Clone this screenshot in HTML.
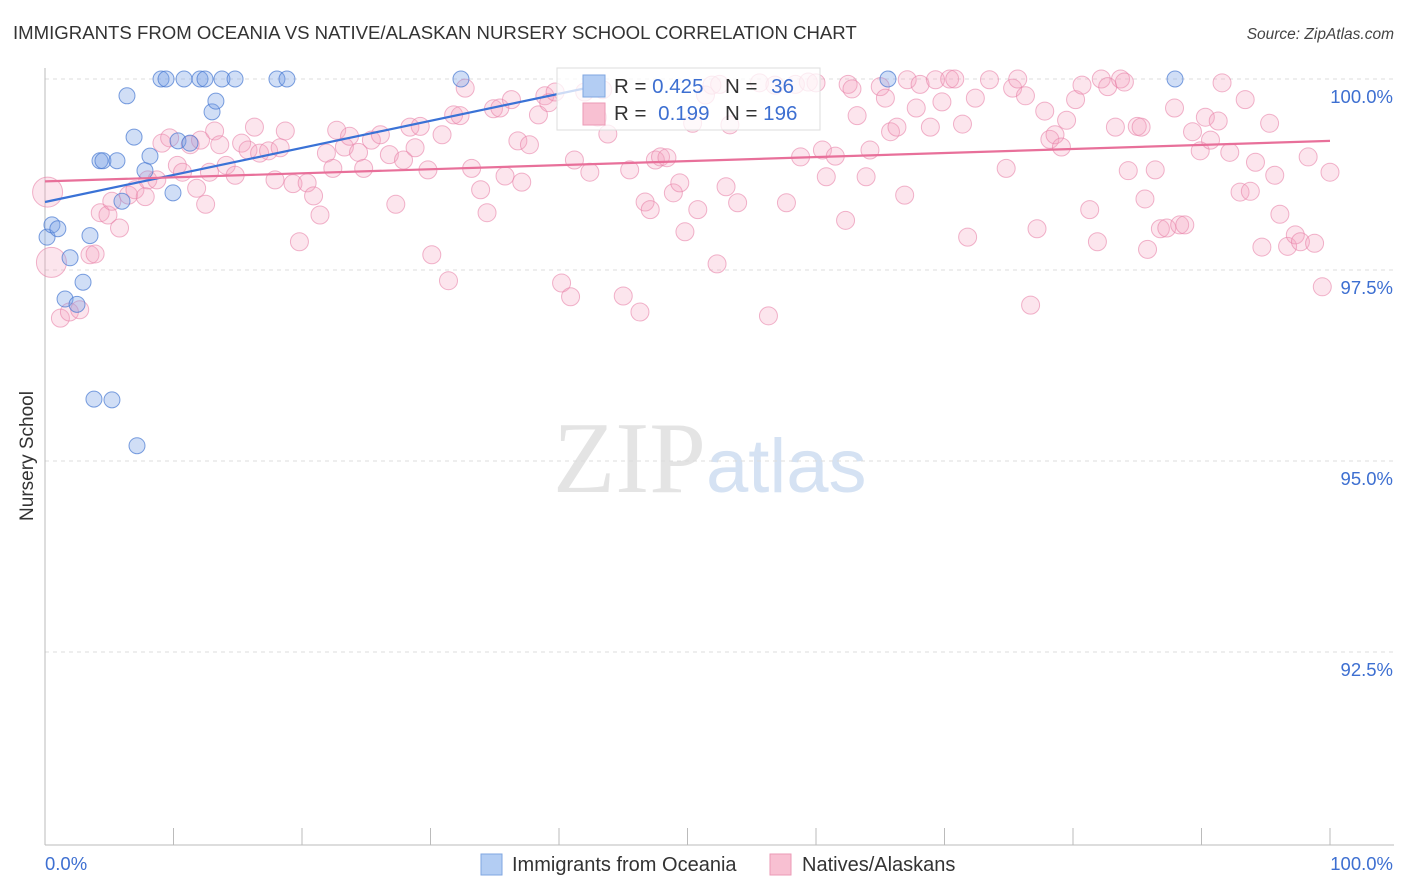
<!DOCTYPE html>
<html><head><meta charset="utf-8"><style>
body{margin:0;background:#fff;font-family:"Liberation Sans",sans-serif;}
svg{display:block}
</style></head><body>
<svg id="chart" width="1406" height="892" viewBox="0 0 1406 892" xmlns="http://www.w3.org/2000/svg">
<text x="13" y="39" font-size="18.6" fill="#333">IMMIGRANTS FROM OCEANIA VS NATIVE/ALASKAN NURSERY SCHOOL CORRELATION CHART</text>
<text x="1394" y="39" font-size="15.5" fill="#444" font-style="italic" text-anchor="end">Source: ZipAtlas.com</text>
<text x="553" y="492" font-size="102" fill="#e4e4e4" font-family="Liberation Serif,serif">ZIP<tspan fill="#d5e2f3" font-family="Liberation Sans,sans-serif" font-size="76">atlas</tspan></text>
<g id="grid"></g>
<g id="axes"></g>
<g id="marks"></g>
<g id="legend-box">
<rect x="557" y="68" width="263" height="62" fill="#fff" fill-opacity="0.75" stroke="#ddd"/>
<rect x="583" y="75" width="22" height="22" fill="#b3cdf3" stroke="#7fa6e0"/>
<rect x="583" y="103" width="22" height="22" fill="#f8c0d2" stroke="#eb9ab6"/>
<text x="614" y="93" font-size="20.5" fill="#333">R = <tspan fill="#3d6fd1">0.425</tspan></text>
<text x="725" y="93" font-size="20.5" fill="#333">N = <tspan fill="#3d6fd1" dx="8">36</tspan></text>
<text x="614" y="120" font-size="20.5" fill="#333">R = <tspan fill="#3d6fd1" dx="6">0.199</tspan></text>
<text x="725" y="120" font-size="20.5" fill="#333">N = <tspan fill="#3d6fd1">196</tspan></text>
</g>
<g>
<rect x="481" y="854" width="21" height="21" fill="#b3cdf3" stroke="#7fa6e0"/>
<text x="512" y="871" font-size="20" fill="#333">Immigrants from Oceania</text>
<rect x="770" y="854" width="21" height="21" fill="#f8c0d2" stroke="#eb9ab6"/>
<text x="802" y="871" font-size="20" fill="#333">Natives/Alaskans</text>
</g>
<text transform="translate(33,456) rotate(-90)" font-size="19" fill="#333" text-anchor="middle">Nursery School</text>
</svg>
<script>
const yTicks=[100,97.5,95,92.5];
const yTickLabels=["100.0%","97.5%","95.0%","92.5%"];
const xEndLabels=["0.0%","100.0%"];
const blueX=[0.16,0.54,1.0,1.95,1.56,2.49,2.96,3.5,4.28,4.51,5.6,5.21,3.81,7.16,5.99,6.38,6.93,7.78,8.17,9.03,9.42,9.96,10.35,10.82,11.28,12.06,12.45,13.0,13.3,13.77,14.79,18.05,18.83,32.37,65.6,87.94];
const blueY=[97.93,98.09,98.04,97.66,97.12,97.05,97.34,97.95,98.93,98.93,98.93,95.8,95.81,95.2,98.4,99.78,99.24,98.8,98.99,100,100,98.51,99.19,100,99.16,100,100,99.57,99.71,100,100,100,100,100,100,100];
const pinkX=[0.2,0.5,1.2,1.9,2.7,3.5,3.9,4.3,4.9,5.2,5.8,6.5,7.0,7.8,8.0,8.7,9.1,9.7,10.3,10.7,11.3,11.8,12.1,12.5,12.8,13.2,13.6,14.1,14.8,15.3,15.8,16.3,16.7,17.4,17.9,18.3,18.7,19.3,19.8,20.4,20.9,21.4,21.9,22.4,22.7,23.3,23.7,24.4,24.8,25.4,26.1,26.8,27.3,27.9,28.4,28.8,29.2,29.8,30.1,30.9,31.4,31.8,32.3,32.7,33.2,33.9,34.4,34.9,35.4,35.8,36.3,36.8,37.1,37.7,38.4,38.9,39.2,39.7,40.2,40.9,41.2,42.0,42.4,43.0,43.4,43.8,45.0,45.5,46.3,46.7,47.1,47.5,47.9,48.4,48.9,49.4,49.8,50.4,50.8,51.4,51.9,52.3,52.5,53.0,53.3,53.9,55.6,56.3,56.8,57.7,58.4,58.8,59.4,60.0,60.5,60.8,61.5,62.3,62.5,62.8,63.2,63.9,64.2,65.0,65.4,65.8,66.3,66.9,67.1,67.8,68.1,68.9,69.3,69.8,70.4,70.8,71.4,71.8,72.4,73.5,74.8,75.3,75.7,76.3,76.7,77.2,77.8,78.2,78.6,79.1,79.5,80.2,80.7,81.3,81.9,82.2,82.7,83.3,83.7,84.0,84.3,85.0,85.3,85.6,85.8,86.4,86.8,87.3,87.9,88.3,88.7,89.3,89.9,90.3,90.7,91.3,91.6,92.2,93.0,93.4,93.8,94.2,94.7,95.3,95.7,96.1,96.7,97.3,97.7,98.3,98.8,99.4,100];
const pinkY=[98.52,97.60,96.87,96.95,96.98,97.70,97.71,98.25,98.22,98.40,98.05,98.48,98.55,98.46,98.68,98.68,99.16,99.23,98.87,98.78,99.14,98.57,99.20,98.36,98.78,99.32,99.14,98.87,98.74,99.16,99.07,99.37,99.03,99.06,98.68,99.10,99.32,98.63,97.87,98.64,98.47,98.22,99.03,98.83,99.33,99.11,99.25,99.04,98.83,99.20,99.27,99.01,98.36,98.94,99.37,99.10,99.38,98.81,97.70,99.27,97.36,99.53,99.52,99.88,98.83,98.55,98.25,99.61,99.62,98.73,99.73,99.19,98.65,99.14,99.53,99.78,99.69,99.83,97.33,97.15,98.94,99.83,98.78,99.50,99.86,99.28,97.16,98.81,96.95,98.39,98.29,98.94,98.98,98.97,98.51,98.64,98.00,99.42,98.29,99.79,99.92,97.58,99.93,98.59,99.40,98.38,99.95,96.90,99.92,98.38,99.93,98.98,99.96,99.95,99.07,98.72,98.99,98.15,99.93,99.87,99.52,98.72,99.07,99.90,99.75,99.31,99.37,98.48,99.99,99.62,99.93,99.37,99.99,99.70,100,100,99.41,97.93,99.75,99.99,98.83,99.88,100,99.78,97.04,98.04,99.58,99.21,99.27,99.11,99.46,99.73,99.92,98.29,97.87,100,99.90,99.37,100,99.96,98.80,99.38,99.37,98.43,97.77,98.81,98.04,98.05,99.62,98.09,98.09,99.31,99.06,99.50,99.20,99.45,99.95,99.04,98.52,99.73,98.53,98.91,97.80,99.42,98.74,98.23,97.81,97.96,97.87,98.98,97.85,97.28,98.78];
const blueTrend=[0,98.39,43.2,99.92];
const pinkTrend=[0,98.66,100,99.19];

const NS="http://www.w3.org/2000/svg";
const X0=45,X1=1330,YTOP=79,PX_PER=76.4;
function sx(v){return X0+(X1-X0)*v/100;}
function sy(v){return YTOP+(100-v)*PX_PER;}
function mk(tag,attrs,parent){const e=document.createElementNS(NS,tag);for(const k in attrs)e.setAttribute(k,attrs[k]);parent.appendChild(e);return e;}
const grid=document.getElementById('grid'),axes=document.getElementById('axes'),marks=document.getElementById('marks');
yTicks.forEach((t,i)=>{
  const l=mk('line',{x1:X0,x2:1394,y1:sy(t),y2:sy(t),stroke:'#ddd','stroke-dasharray':'4,4'},grid);
  
  
  const tx=mk('text',{x:1393,y:sy(t)+24,'font-size':18.5,fill:'#3d6fd1','text-anchor':'end'},axes);
  tx.textContent=yTickLabels[i];
  
  
});
const ya=mk('line',{x1:X0,x2:X0,y1:68,y2:845,stroke:'#bbb'},axes);


const xa=mk('line',{x1:X0,x2:1394,y1:845,y2:845,stroke:'#bbb'},axes);


for(let i=0;i<=10;i++){
  const tk=mk('line',{x1:sx(i*10),x2:sx(i*10),y1:828,y2:845,stroke:'#bbb'},axes);
  
  
}
[[0,'start',X0],[1,'end',1393]].forEach(([i,a,x])=>{
  const t=mk('text',{x:x,y:870,'font-size':18.5,fill:'#3d6fd1','text-anchor':a},axes);
  t.textContent=xEndLabels[i];
  
  
});
pinkX.forEach((x,i)=>{
  const r=(i<2)?15:9;
  const c=mk('circle',{cx:sx(x),cy:sy(pinkY[i]),r:r,fill:'rgba(243,160,190,0.28)',stroke:'rgba(232,130,168,0.6)','stroke-width':1},marks);
  
  
});
blueX.forEach((x,i)=>{
  const c=mk('circle',{cx:sx(x),cy:sy(blueY[i]),r:8,fill:'rgba(120,160,230,0.35)',stroke:'rgba(70,120,210,0.7)','stroke-width':1},marks);
  
  
});
const bl=mk('line',{x1:sx(blueTrend[0]),y1:sy(blueTrend[1]),x2:sx(blueTrend[2]),y2:sy(blueTrend[3]),stroke:'#3a72d6','stroke-width':2.2},marks);


const pl=mk('line',{x1:sx(pinkTrend[0]),y1:sy(pinkTrend[1]),x2:sx(pinkTrend[2]),y2:sy(pinkTrend[3]),stroke:'#e8709a','stroke-width':2.2},marks);


</script>
</body></html>
